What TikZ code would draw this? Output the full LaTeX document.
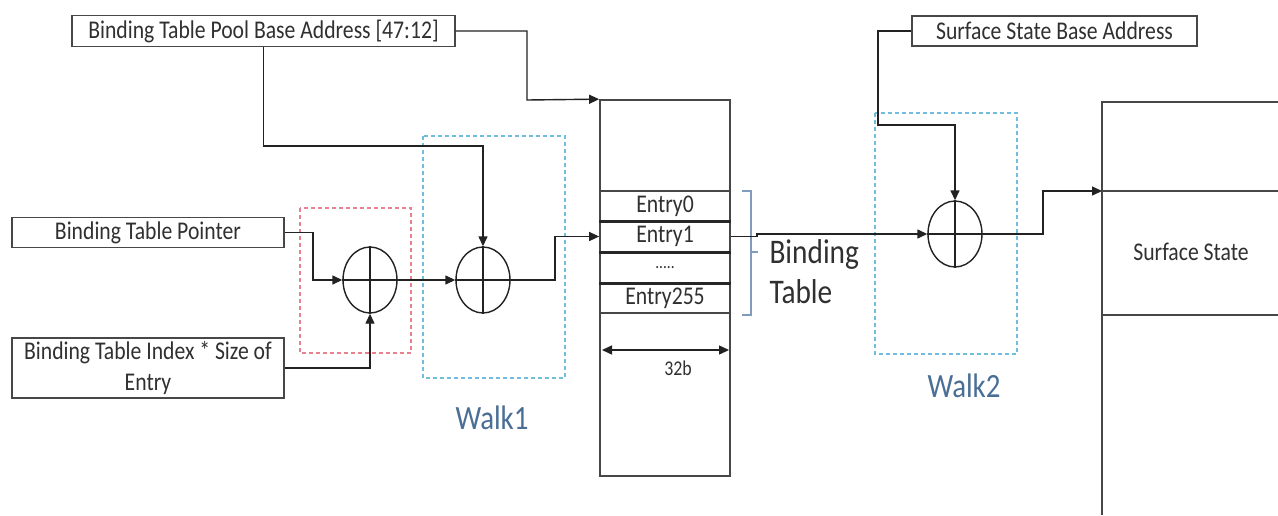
\documentclass[tikz,border=0pt]{standalone}
\usepackage{fontspec}
\setmainfont{Carlito}[FakeStretch=0.85]
\usetikzlibrary{arrows.meta,shapes.geometric,calc}
\definecolor{lc}{HTML}{222222}
\definecolor{bc}{HTML}{474747}
\definecolor{tc}{HTML}{303030}
\definecolor{walkc}{HTML}{4A6E96}
\definecolor{redd}{HTML}{E8808E}
\definecolor{blued}{HTML}{72BCDE}
\definecolor{bracec}{HTML}{7F9CBC}
\tikzset{
  lbl/.style={draw=bc, line width=1.4pt, rectangle, inner sep=0pt, text=tc,
              font=\fontsize{25.5}{31}\selectfont},
  conn/.style={draw=lc, line width=1.4pt},
  arr/.style={conn, -{Triangle[length=10pt,width=9pt]}},
  adder/.style={ellipse, draw=lc, line width=1.4pt, minimum width=54pt,
                minimum height=66pt, inner sep=0pt},
  walkbox/.style={line width=1.3pt, dash pattern=on 4pt off 3pt},
  walklbl/.style={text=walkc, font=\fontsize{34}{38}\selectfont},
  tblbox/.style={draw=bc, line width=1.7pt, rectangle, inner sep=0pt},
  entrybox/.style={draw=bc, line width=1.7pt, rectangle, inner sep=0pt,
                   minimum width=130pt, text=tc, font=\fontsize{25.5}{28}\selectfont},
  sep/.style={draw=black!85, line width=3pt},
}
\begin{document}
\begin{tikzpicture}[x=1pt,y=-1pt]
\useasboundingbox[fill=white] (0,0) rectangle (1278,515);

% input boxes
\node[lbl, minimum width=383pt, minimum height=31pt] (pool) at (263.5,31) {Binding Table Pool Base Address [47:12]};
\node[lbl, minimum width=272pt, minimum height=30pt] (ptr) at (148,232.5) {Binding Table Pointer};
\node[lbl, minimum width=272pt, minimum height=60pt, align=center] (idx) at (148,368) {Binding Table Index * Size of\\Entry};
\node[lbl, minimum width=285pt, minimum height=30pt] (ssba) at (1054.5,31) {Surface State Base Address};

% dashed walk boxes
\draw[walkbox, draw=redd] (300,208) rectangle (411,353);
\draw[walkbox, draw=blued] (423,136) rectangle (565,378);
\draw[walkbox, draw=blued] (875,113) rectangle (1017,354);
\node[walklbl] (walk1) at (492,418) {Walk1};
\node[walklbl] (walk2) at (964,386) {Walk2};

% adders
\node[adder] (c1) at (370,280) {};
\node[adder] (c2) at (483,280) {};
\node[adder] (c3) at (955,234) {};
\foreach \c in {c1,c2,c3}{
  \draw[conn] (\c.north) -- (\c.south) (\c.west) -- (\c.east);
}

% binding table
\node[tblbox, minimum width=130pt, minimum height=376pt] (tbl) at (665,288) {};
\node[entrybox, minimum height=30pt] (e0) at (665,206) {Entry0};
\node[entrybox, minimum height=31pt] (e1) at (665,236.5) {Entry1};
\node[entrybox, minimum height=31pt, font=\fontsize{18}{20}\selectfont] (ed) at (665,267.5) {.....};
\node[entrybox, minimum height=30pt] (e255) at (665,298) {Entry255};
\draw[sep] (e0.south west) -- (e0.south east);
\draw[sep] (e1.south west) -- (e1.south east);
\draw[sep] (ed.south west) -- (ed.south east);

% width arrow
\coordinate (wl) at (602,350);
\coordinate (wr) at (729,350);
\draw[conn, {Triangle[length=10pt,width=9pt]}-{Triangle[length=10pt,width=9pt]}] (wl) -- (wr);
\node[text=tc, font=\fontsize{21}{24}\selectfont] (w32) at (678,368) {32b};

% brace and label
\draw[draw=bracec, line width=1.3pt] (742,191) -- (751,191) -- (751,315) -- (742,315);
\draw[draw=bracec, line width=1.3pt] (751,252) -- (758,252);
\node[anchor=west, align=left, text=tc, font=\fontsize{34.5}{40}\selectfont] (btl) at (766,272) {Binding\\Table};

% surface state
\coordinate (ssTop) at (1102,102);
\coordinate (ssIn) at (1102,191);
\draw[draw=bc, line width=1.7pt] (1278,102) -- (ssTop) -- (1102,515);
\draw[draw=bc, line width=1.7pt] (ssIn) -- (1278,191);
\draw[draw=bc, line width=1.7pt] (1102,315) -- (1278,315);
\node[text=tc, font=\fontsize{25.5}{28}\selectfont] (ss) at (1191,252) {Surface State};

% connectors
\draw[arr] (pool.east) -- (527,31) -- (527,100) -- (tbl.north west);
\draw[arr] (pool.south) |- (483,146) -- (c2.north);
\draw[arr] (ptr.east) -- (313,232.5) |- (c1.west);
\draw[arr] (idx.east) -| (c1.south);
\draw[arr] (c1.east) -- (c2.west);
\draw[arr] (c2.east) -- (555,280) |- (e1.west);
\coordinate (jog) at (757,236.5);
\draw[arr] (e1.east) -- (jog) -- (757,234) -- (c3.west);
\coordinate (k1) at (878,125);
\draw[arr] (ssba.west) -| (k1) -| (c3.north);
\draw[arr] (c3.east) -- (1043,234) |- (ssIn);
\end{tikzpicture}
\end{document}
